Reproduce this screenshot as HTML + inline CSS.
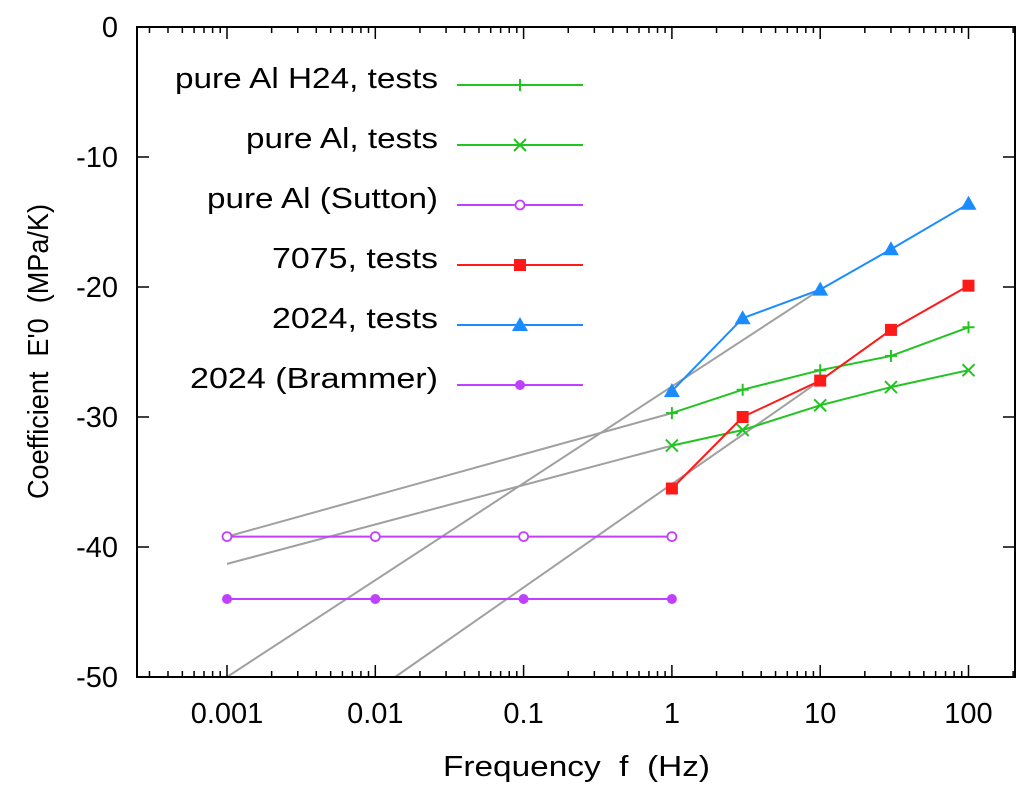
<!DOCTYPE html>
<html><head><meta charset="utf-8"><style>
body{margin:0;background:#fff}
svg{display:block;font-family:"Liberation Sans",Arial,sans-serif}
text{white-space:pre}
</style></head><body>
<svg id="chart" width="1024" height="797" viewBox="0 0 1024 797"></svg>
<script>
const freqs = [1, 3, 10, 30, 100];
const h24Vals = [-29.7, -27.9, -26.4, -25.3, -23.1];
const pureAlVals = [-32.2, -31.0, -29.1, -27.7, -26.4];
const a7075Vals = [-35.5, -30.0, -27.2, -23.3, -19.9];
const a2024Vals = [-28.0, -22.4, -20.2, -17.1, -13.6];
const refFreqs = [0.001, 0.01, 0.1, 1];
const suttonVals = [-39.2, -39.2, -39.2, -39.2];
const brammerVals = [-44.0, -44.0, -44.0, -44.0];
const fitStartF = [0.001, 0.001, 0.001, 0.0136];
const fitStartV = [-39.2, -41.3, -50, -50];
const fitEndF = [1, 1, 10, 10];
const fitEndV = [-29.7, -32.2, -20.2, -27.2];
const yTicks = [0, -10, -20, -30, -40, -50];
const xTicks = [0.001, 0.01, 0.1, 1, 10, 100];
const xTickLabels = ["0.001", "0.01", "0.1", "1", "10", "100"];

const L=137,R=1015,T=27,B=677;
const dec=148.3, x0=227;
const X=f=>x0+(Math.log10(f)+3)*dec;
const Y=v=>T+(-v)*13;
const svg=document.getElementById('chart');
const NS='http://www.w3.org/2000/svg';
function el(t,a,p){const e=document.createElementNS(NS,t);for(const k in a)e.setAttribute(k,a[k]);(p||svg).appendChild(e);return e;}

const gf=el('g',{});


for(let i=0;i<fitStartF.length;i++){
  const l=el('line',{x1:X(fitStartF[i]),y1:Y(fitStartV[i]),x2:X(fitEndF[i]),y2:Y(fitEndV[i]),stroke:'#a0a0a0','stroke-width':2},gf);
  
  
}

function marker(g,type,x,y,c){
  if(type==='plus'){el('path',{d:`M${x-6} ${y}h12M${x} ${y-6}v12`,stroke:c,'stroke-width':2},g);}
  else if(type==='cross'){el('path',{d:`M${x-6} ${y-6}l12 12M${x-6} ${y+6}l12 -12`,stroke:c,'stroke-width':2},g);}
  else if(type==='ocircle'){el('circle',{cx:x,cy:y,r:4.5,fill:'#fff',stroke:c,'stroke-width':1.8},g);}
  else if(type==='fcircle'){el('circle',{cx:x,cy:y,r:5,fill:c},g);}
  else if(type==='square'){el('rect',{x:x-6,y:y-6,width:12,height:12,fill:c},g);}
  else if(type==='tri'){el('path',{d:`M${x} ${y-8}L${x+8} ${y+6}L${x-8} ${y+6}Z`,fill:c},g);}
}
const series=[
 {name:'pure Al H24, tests',w:263,f:freqs,v:h24Vals,c:'#22c422',m:'plus',id:'series-h24'},
 {name:'pure Al, tests',w:192,f:freqs,v:pureAlVals,c:'#22c422',m:'cross',id:'series-pure-al'},
 {name:'pure Al (Sutton)',w:231,f:refFreqs,v:suttonVals,c:'#c040ff',m:'ocircle',id:'series-sutton'},
 {name:'7075, tests',w:166,f:freqs,v:a7075Vals,c:'#ff1a1a',m:'square',id:'series-7075'},
 {name:'2024, tests',w:166,f:freqs,v:a2024Vals,c:'#1a8cff',m:'tri',id:'series-2024'},
 {name:'2024 (Brammer)',w:248,f:refFreqs,v:brammerVals,c:'#c040ff',m:'fcircle',id:'series-brammer'}
];
series.forEach((s,i)=>{
  const g=el('g',{});
  
  
  let d='';
  s.f.forEach((f,j)=>{d+=(j?'L':'M')+X(f)+' '+Y(s.v[j]);});
  el('path',{d:d,fill:'none',stroke:s.c,'stroke-width':2},g);
  s.f.forEach((f,j)=>marker(g,s.m,X(f),Y(s.v[j]),s.c));
  const lg=el('g',{});
  
  
  const ly=85+60*i;
  const t=el('text',{x:438-s.w,y:ly+3,'font-size':29,fill:'#000',textLength:s.w,lengthAdjust:'spacingAndGlyphs'},lg);
  t.textContent=s.name;
  el('line',{x1:457,y1:ly,x2:583,y2:ly,stroke:s.c,'stroke-width':2},lg);
  marker(lg,s.m,520,ly,s.c);
});

const ax=el('g',{});


el('rect',{x:L,y:T,width:R-L,height:B-T,fill:'none',stroke:'#000','stroke-width':2},ax);
yTicks.forEach(v=>{
  el('line',{x1:L,y1:Y(v),x2:L+12,y2:Y(v),stroke:'#000','stroke-width':1.5},ax);
  el('line',{x1:R,y1:Y(v),x2:R-12,y2:Y(v),stroke:'#000','stroke-width':1.5},ax);
  const t=el('text',{x:118,y:Y(v)+10,'text-anchor':'end','font-size':29},ax);
  t.textContent=v;
  
  
});
for(let e=-4;e<=2;e++){
  for(let k=1;k<10;k++){
    const f=k*Math.pow(10,e), x=X(f);
    if(x<=L||x>=R)continue;
    const len=k===1?12:6;
    el('line',{x1:x,y1:B,x2:x,y2:B-len,stroke:'#000','stroke-width':1.5},ax);
    el('line',{x1:x,y1:T,x2:x,y2:T+len,stroke:'#000','stroke-width':1.5},ax);
  }
}
xTicks.forEach((f,i)=>{
  const t=el('text',{x:X(f),y:723,'text-anchor':'middle','font-size':29},ax);
  t.textContent=xTickLabels[i];
  
  
});
const xt=el('text',{x:443,y:776,'font-size':29,textLength:267,lengthAdjust:'spacingAndGlyphs'});
xt.textContent='Frequency  f  (Hz)';


const yt=el('text',{x:-147,y:0,'font-size':29,textLength:295,lengthAdjust:'spacingAndGlyphs',transform:'translate(48,352) rotate(-90)'});
yt.textContent="Coefficient  E'0  (MPa/K)";


</script>
</body></html>
